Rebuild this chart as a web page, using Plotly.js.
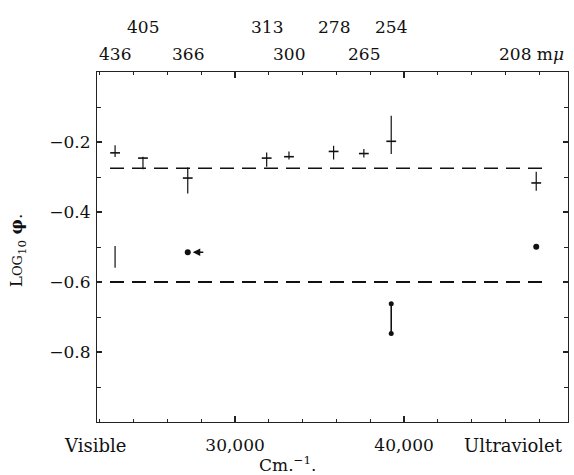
<!DOCTYPE html>
<html>
<head>
<meta charset="utf-8">
<script src="https://cdn.plot.ly/plotly-3.0.1.min.js"></script>
<style>html,body{margin:0;padding:0;background:#fff;}#chart{width:574px;height:475px;}</style>
</head>
<body>
<div id="chart"></div>
<script>
// Wavelength labels (mμ) and their wavenumbers (cm^-1)
const wavelengthLabels = ['436', '405', '366', '313', '300', '278', '265', '254', '208'];
const labelRow = [0, 1, 0, 1, 0, 1, 0, 1, 0]; // 0 = lower row, 1 = upper row
const wavenumber = [22900, 24550, 27200, 31870, 33190, 35830, 37620, 39240, 47820];

// Upper group: log10 phi with asymmetric error bars
const logPhi   = [-0.231, -0.246, -0.303, -0.246, -0.242, -0.227, -0.233, -0.198, -0.317];
const errPlus  = [0.022, 0.004, 0.030, 0.016, 0.015, 0.016, 0.013, 0.073, 0.032];
const errMinus = [0.012, 0.032, 0.044, 0.025, 0.008, 0.023, 0.011, 0.036, 0.022];

// Mean levels (dashed lines)
const meanX = [22600, 48400];
const upperMean = -0.275;
const lowerMean = -0.6;

// Lower group
const bar436X = [22900, 22900];
const bar436Y = [-0.497, -0.559];
const pair254X = [39240, 39240];
const pair254Y = [-0.662, -0.747];
const dotX = [27200, 47820];
const dotY = [-0.515, -0.499];

const FONT = 'DejaVu Serif, Liberation Serif, serif';

const traces = [
  {x: meanX, y: [upperMean, upperMean], mode: 'lines',
   line: {color: '#111', width: 1.6, dash: '14px,8px'}, hoverinfo: 'skip'},
  {x: meanX, y: [lowerMean, lowerMean], mode: 'lines',
   line: {color: '#111', width: 1.9, dash: '14px,8px'}, hoverinfo: 'skip'},
  {x: wavenumber, y: logPhi, mode: 'markers',
   marker: {symbol: 'line-ew', size: 7, line: {color: '#111', width: 1.6}, color: '#111'},
   error_y: {type: 'data', symmetric: false, array: errPlus, arrayminus: errMinus,
             width: 0, thickness: 1.2, color: '#111'}},
  {x: bar436X, y: bar436Y, mode: 'lines', line: {color: '#222', width: 1.3}},
  {x: pair254X, y: pair254Y, mode: 'lines+markers', line: {color: '#111', width: 1.6},
   marker: {symbol: 'circle', size: 5, color: '#111'}},
  {x: dotX, y: dotY, mode: 'markers', marker: {symbol: 'circle', size: 6, color: '#111'}}
];

const annotations = [];
wavelengthLabels.forEach((lab, i) => {
  const last = i === wavelengthLabels.length - 1;
  annotations.push({
    x: wavenumber[i], xref: 'x', yref: 'paper',
    y: labelRow[i] === 1 ? 1.129 : 1.051,
    text: last ? lab + ' m<i>μ</i>' : lab,
    showarrow: false, xanchor: 'center', yanchor: 'middle',
    xshift: last ? -5 : 0,
    font: {family: FONT, size: 17, color: '#111'}
  });
});
annotations.push(
  {x: -0.004, y: -0.066, xref: 'paper', yref: 'paper', text: 'Visible', showarrow: false,
   xanchor: 'center', yanchor: 'middle', font: {family: FONT, size: 18, color: '#111'}},
  {x: 0.885, y: -0.066, xref: 'paper', yref: 'paper', text: 'Ultraviolet', showarrow: false,
   xanchor: 'center', yanchor: 'middle', font: {family: FONT, size: 18, color: '#111'}},
  {x: 0.405, y: -0.121, xref: 'paper', yref: 'paper', text: 'Cm.<sup>−1</sup>.', showarrow: false,
   xanchor: 'center', yanchor: 'middle', font: {family: FONT, size: 17, color: '#111'}},
  {x: -0.168, y: 0.49, xref: 'paper', yref: 'paper', textangle: -90,
   text: "L<span style='font-size:13px'>OG</span><sub>10</sub> <b>φ</b>.", showarrow: false,
   xanchor: 'center', yanchor: 'middle', font: {family: FONT, size: 17, color: '#111'}},
  {x: dotX[0], y: dotY[0], xref: 'x', yref: 'y', text: '', showarrow: true,
   ax: 12, ay: 0, xshift: 5, arrowhead: 2, arrowsize: 1, arrowwidth: 1.5, arrowcolor: '#111'}
);

const layout = {
  width: 574, height: 475,
  margin: {l: 97, r: 6, t: 72, b: 53},
  paper_bgcolor: '#fff', plot_bgcolor: '#fff',
  showlegend: false,
  font: {family: FONT, size: 17, color: '#111'},
  xaxis: {
    range: [21830, 49700], showgrid: false, zeroline: false,
    showline: true, linecolor: '#222', linewidth: 1, mirror: 'allticks',
    ticks: 'inside', ticklen: 6, tickwidth: 1.2, tickcolor: '#222',
    tickvals: [30000, 40000], ticktext: ['30,000', '40,000'],
    ticklabelstandoff: 8,
    minor: {dtick: 2000, tick0: 22000, ticks: 'inside', ticklen: 3, tickcolor: '#222', tickwidth: 1},
    tickfont: {family: FONT, size: 17, color: '#111'}
  },
  yaxis: {
    range: [-1.0, 0.0], showgrid: false, zeroline: false,
    showline: true, linecolor: '#222', linewidth: 1, mirror: 'allticks',
    ticks: 'inside', ticklen: 5, tickwidth: 1.2, tickcolor: '#222',
    tickvals: [-0.2, -0.4, -0.6, -0.8], ticktext: ['−0.2', '−0.4', '−0.6', '−0.8'],
    ticklabelstandoff: 2,
    minor: {dtick: 0.1, tick0: 0, ticks: 'inside', ticklen: 4, tickcolor: '#222', tickwidth: 1},
    tickfont: {family: FONT, size: 17, color: '#111'}
  },
  annotations: annotations
};

Plotly.newPlot('chart', traces, layout, {displayModeBar: false, staticPlot: true});
</script>
</body>
</html>
